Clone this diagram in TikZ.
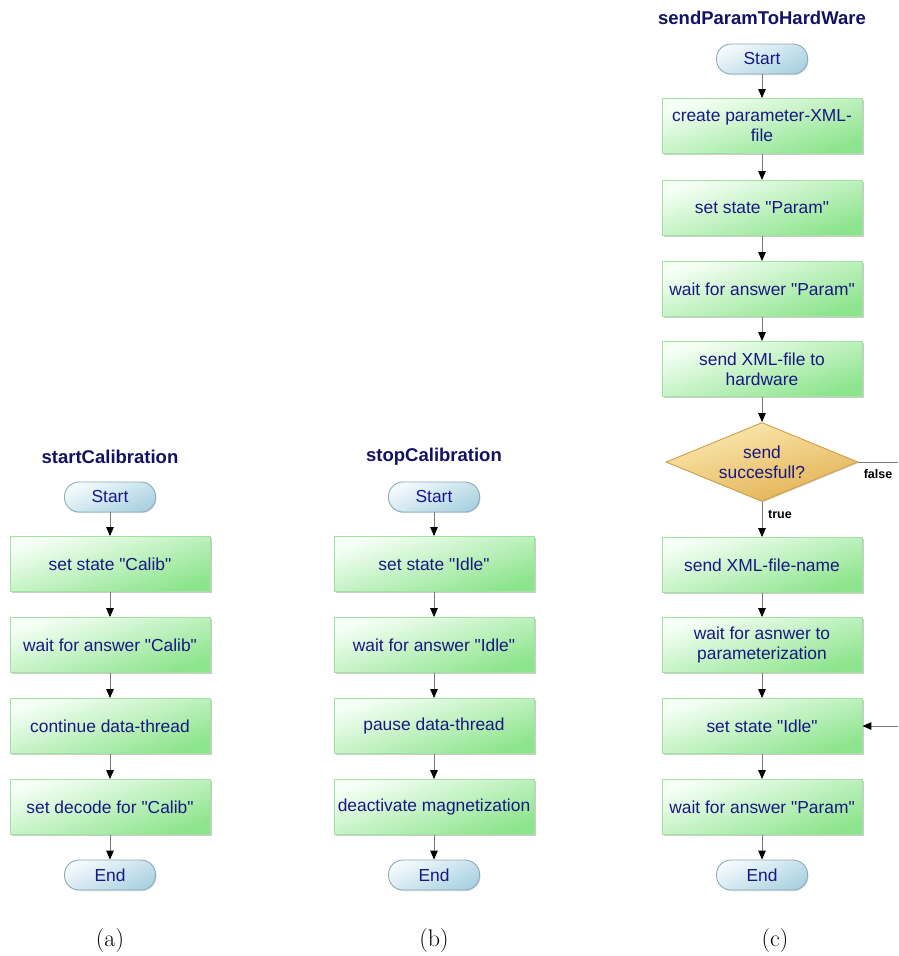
\documentclass[tikz,border=0pt]{standalone}
\usepackage{fontspec}
\newfontfamily\arialf{Liberation Sans}
\usetikzlibrary{shapes.geometric,shadows,arrows.meta}
\definecolor{textblue}{RGB}{24,24,130}
\definecolor{titleblue}{RGB}{18,18,100}
\definecolor{boxtop}{RGB}{246,255,246}
\definecolor{boxbot}{RGB}{140,228,140}
\definecolor{boxborder}{RGB}{160,226,160}
\definecolor{termtop}{RGB}{244,250,252}
\definecolor{termbot}{RGB}{170,210,226}
\definecolor{termborder}{RGB}{140,170,185}
\definecolor{diatop}{RGB}{252,234,180}
\definecolor{diabot}{RGB}{226,176,80}
\definecolor{diaborder}{RGB}{205,160,70}
\definecolor{linegray}{RGB}{120,120,120}
\tikzset{
  nodefont/.style={font=\arialf\fontsize{17.4}{20}\selectfont, text=textblue},
  procbox/.style={rectangle, draw=boxborder, line width=0.9pt, top color=boxtop, bottom color=boxbot, shading angle=18, minimum width=200pt, minimum height=55pt, inner sep=2pt, align=center, nodefont, drop shadow={shadow xshift=1.5pt, shadow yshift=-1.5pt, opacity=0.4, fill=gray}},
  termnode/.style={rectangle, rounded corners=14.5pt, draw=termborder, line width=0.9pt, top color=termtop, bottom color=termbot, shading angle=25, minimum width=91pt, minimum height=30pt, inner sep=1pt, nodefont, drop shadow={shadow xshift=1pt, shadow yshift=-1pt, opacity=0.3, fill=gray}},
  decnode/.style={diamond, aspect=2.43, draw=diaborder, line width=0.9pt, top color=diatop, bottom color=diabot, shading angle=15, minimum width=192pt, minimum height=79pt, inner sep=0pt, align=center, nodefont, drop shadow={shadow xshift=1pt, shadow yshift=-1pt, opacity=0.3, fill=gray}},
  titlenode/.style={font=\arialf\bfseries\fontsize{18.5}{22}\selectfont, text=titleblue},
  lbl/.style={font=\arialf\bfseries\fontsize{12.5}{15}\selectfont, text=black},
  capnode/.style={font=\fontsize{24}{28}\selectfont},
  conn/.style={draw=linegray, line width=1pt, -{Triangle[length=9pt,width=7.5pt,color=black]}},
  plainline/.style={draw=linegray, line width=1pt},
}
\begin{document}
\begin{tikzpicture}[x=1pt,y=-1pt]
\useasboundingbox (0,0) rectangle (898,956);
% ---------- (a) ----------
\node[titlenode] (ta) at (110,457) {startCalibration};
\node[termnode] (sa) at (110,497) {Start};
\node[procbox] (a1) at (110,564) {set state "Calib"};
\node[procbox] (a2) at (110,645) {wait for answer "Calib"};
\node[procbox] (a3) at (110,726) {continue data-thread};
\node[procbox] (a4) at (110,807) {set decode for "Calib"};
\node[termnode] (ea) at (110,875) {End};
\draw[conn] (sa) -- (a1);
\draw[conn] (a1) -- (a2);
\draw[conn] (a2) -- (a3);
\draw[conn] (a3) -- (a4);
\draw[conn] (a4) -- (ea);
\node[capnode] (capa) at (110,940) {(a)};
% ---------- (b) ----------
\node[titlenode] (tb) at (434,457) {stopCalibration};
\node[termnode] (sb) at (434,497) {Start};
\node[procbox] (b1) at (434,564) {set state "Idle"};
\node[procbox] (b2) at (434,645) {wait for answer "Idle"};
\node[procbox] (b3) at (434,726) {pause data-thread};
\node[procbox] (b4) at (434,807) {deactivate magnetization};
\node[termnode] (eb) at (434,875) {End};
\draw[conn] (sb) -- (b1);
\draw[conn] (b1) -- (b2);
\draw[conn] (b2) -- (b3);
\draw[conn] (b3) -- (b4);
\draw[conn] (b4) -- (eb);
\node[capnode] (capb) at (434,940) {(b)};
% ---------- (c) ----------
\node[titlenode] (tc) at (762,18) {sendParamToHardWare};
\node[termnode] (sc) at (762,59) {Start};
\node[procbox] (c1) at (762,126) {create parameter-XML-\\file};
\node[procbox] (c2) at (762,208) {set state "Param"};
\node[procbox] (c3) at (762,289) {wait for answer "Param"};
\node[procbox] (c4) at (762,369) {send XML-file to\\hardware};
\node[decnode] (d) at (762,462) {send\\succesfull?};
\node[procbox] (c5) at (762,565) {send XML-file-name};
\node[procbox] (c6) at (762,645) {wait for asnwer to\\parameterization};
\node[procbox] (c7) at (762,726) {set state "Idle"};
\node[procbox] (c8) at (762,807) {wait for answer "Param"};
\node[termnode] (ec) at (762,875) {End};
\coordinate (fend) at (898,462);
\coordinate (iend) at (898,726);
\draw[conn] (sc) -- (c1);
\draw[conn] (c1) -- (c2);
\draw[conn] (c2) -- (c3);
\draw[conn] (c3) -- (c4);
\draw[conn] (c4) -- (d);
\draw[conn] (d) -- (c5);
\draw[conn] (c5) -- (c6);
\draw[conn] (c6) -- (c7);
\draw[conn] (c7) -- (c8);
\draw[conn] (c8) -- (ec);
\draw[plainline] (d.east) -- (fend);
\draw[conn] (iend) -- (c7.east);
\node[lbl] (lt) at (780,514) {true};
\node[lbl] (lf) at (878,474) {false};
\node[capnode] (capc) at (775,940) {(c)};
\end{tikzpicture}
\end{document}
